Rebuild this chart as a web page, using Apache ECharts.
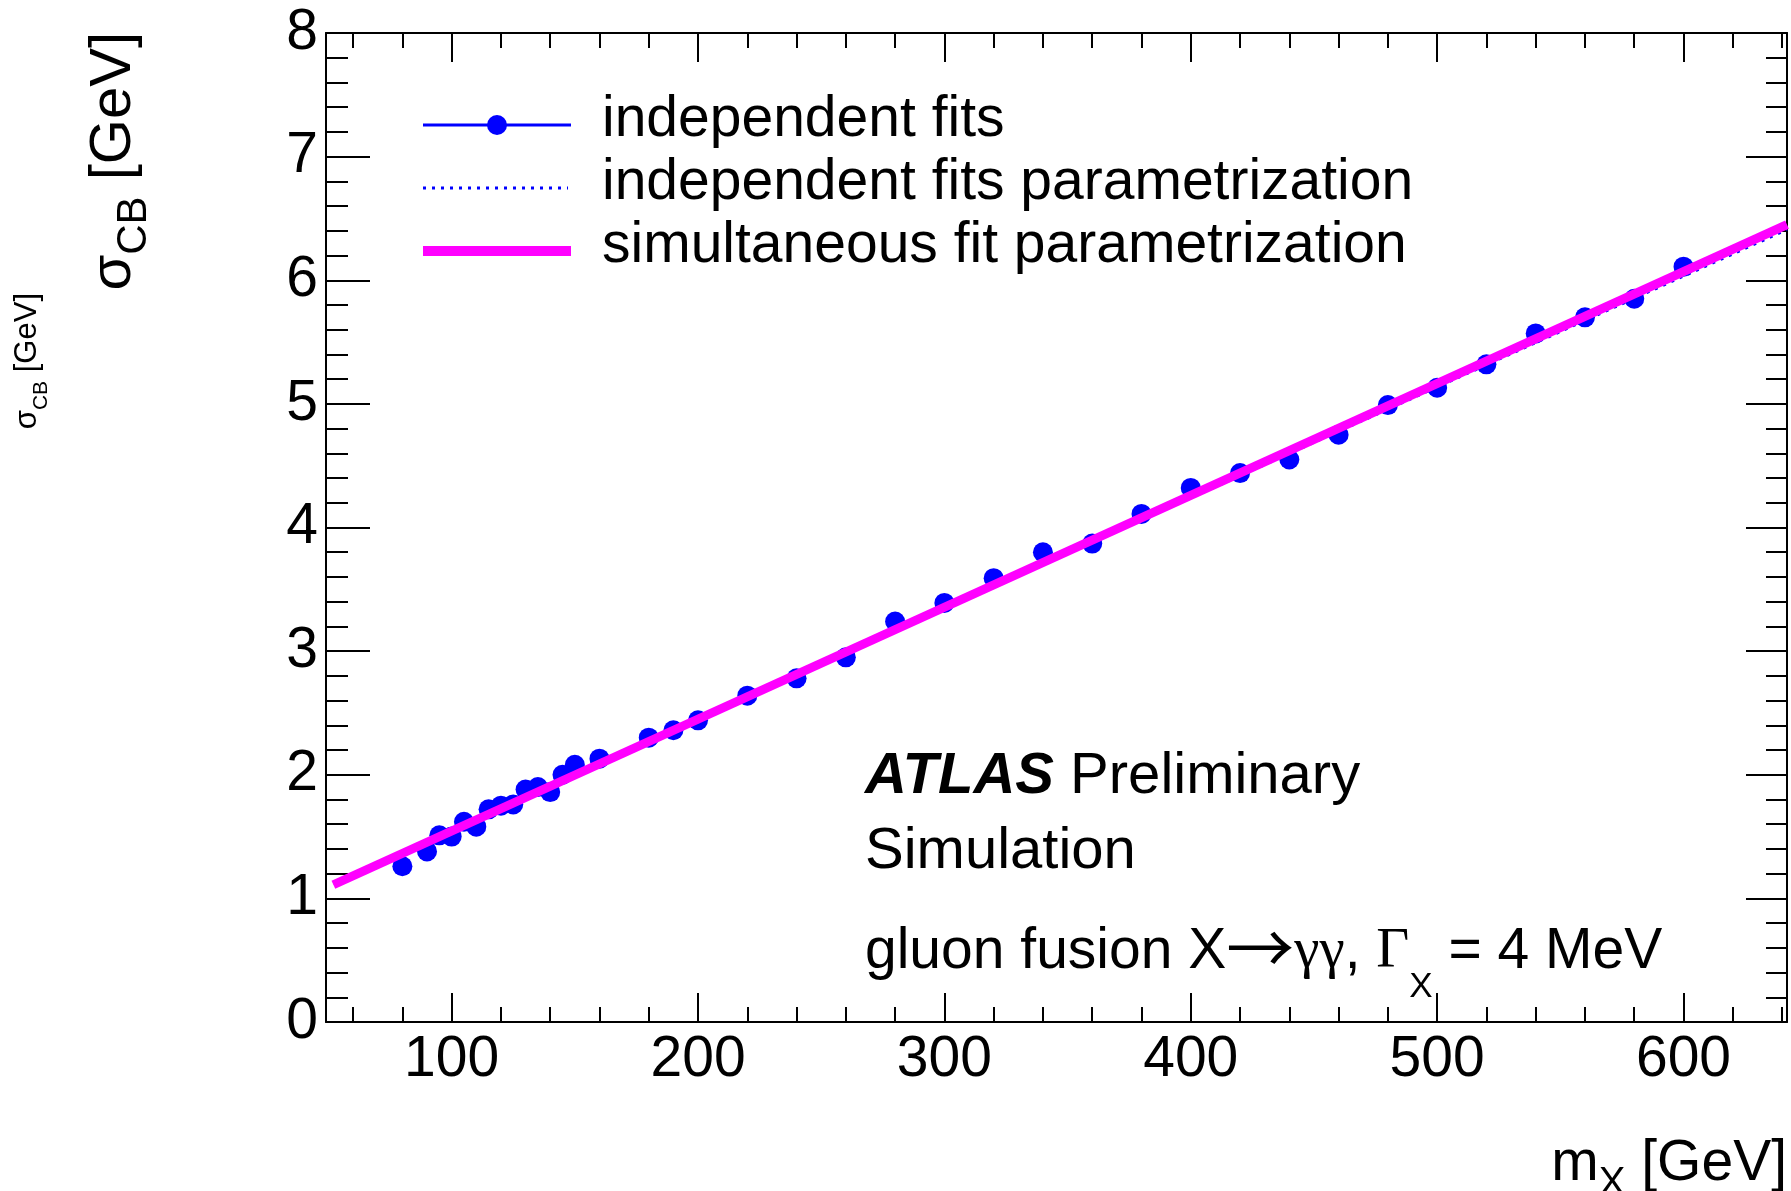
<!DOCTYPE html>
<html>
<head>
<meta charset="utf-8">
<script src="https://cdn.jsdelivr.net/npm/echarts@6/dist/echarts.min.js"></script>
<style>
    html, body { margin: 0; padding: 0; background: #ffffff; }
    #chart { width: 1791px; height: 1191px; }
</style>
</head>
<body>
<div id="chart"></div>
<script>
// independent fits (points)
const massPoints = [80, 90, 95, 100, 105, 110, 115, 120, 125, 130, 135, 140, 145, 150, 160,
    180, 190, 200, 220, 240, 260, 280, 300, 320, 340, 360, 380, 400, 420, 440, 460, 480,
    500, 520, 540, 560, 580, 600];
const sigmaPoints = [1.26, 1.38, 1.51, 1.50, 1.62, 1.58, 1.72, 1.75, 1.76, 1.88, 1.90, 1.86, 2.00, 2.08, 2.13,
    2.30, 2.36, 2.44, 2.64, 2.78, 2.95, 3.24, 3.39, 3.59, 3.80, 3.87, 4.11, 4.32, 4.44, 4.55, 4.75, 4.99,
    5.13, 5.32, 5.57, 5.70, 5.85, 6.11];

// parametrizations (straight lines, read at both ends)
const paramMass = [52, 642];
const indepFitSigma = [1.12, 6.41];
const simFitSigma = [1.11, 6.45];

// axis ticks
const xMajorTicks = [100, 200, 300, 400, 500, 600];
const xMinorTicks = [60, 80, 120, 140, 160, 180, 220, 240, 260, 280, 320, 340, 360, 380,
    420, 440, 460, 480, 520, 540, 560, 580, 620, 640];

const legendLabels = ["independent fits", "independent fits parametrization", "simultaneous fit parametrization"];

const SANS = '"Liberation Sans", Arial, Helvetica, sans-serif';
const SERIF = '"Liberation Serif", "Times New Roman", serif';
const BLUE = "#0000ff";
const MAGENTA = "#ff00ff";

const measureCtx = document.createElement("canvas").getContext("2d");
function textWidth(str, font) {
    measureCtx.font = font;
    return measureCtx.measureText(str).width;
}

// a line of text made of pieces (for subscripts, greek in serif...)
function textRun(parts, x, y, align, rotation) {
    const fonts = parts.map(p => `${p.style || "normal"} ${p.weight || "normal"} ${p.size}px ${p.family || SANS}`);
    const widths = parts.map((p, i) => textWidth(p.text, fonts[i]));
    const total = widths.reduce((a, b) => a + b, 0);
    let cx = align === "right" ? -total : 0;
    const children = parts.map((p, i) => {
        const el = {
            type: "text",
            x: cx,
            y: p.dy || 0,
            style: { text: p.text, font: fonts[i], fill: "#000", align: "left", verticalAlign: "middle" },
        };
        cx += widths[i];
        return el;
    });
    return { type: "group", x: x, y: y, rotation: rotation || 0, children: children };
}

const chart = echarts.init(document.getElementById("chart"));

const axisLine = { show: true, onZero: false, lineStyle: { color: "#000", width: 2 } };
const noLine = { show: false, onZero: false };
const tickLine = { color: "#000", width: 2 };
const labelFont = { fontSize: 57, fontFamily: SANS, color: "#000" };
const xRange = { type: "value", min: 49, max: 642, splitLine: { show: false } };

const legendY = [125, 188, 251];

const option = {
    backgroundColor: "#ffffff",
    animation: false,
    grid: { left: 326, right: 4, top: 33, bottom: 169, outerBoundsMode: "none" },
    xAxis: [
        {
            ...xRange, position: "bottom", axisLine: axisLine,
            axisTick: { show: true, inside: true, length: 29, customValues: xMajorTicks, lineStyle: tickLine },
            axisLabel: { show: true, customValues: xMajorTicks, margin: 10, ...labelFont },
        },
        {
            ...xRange, position: "bottom", axisLine: noLine,
            axisTick: { show: true, inside: true, length: 15, customValues: xMinorTicks, lineStyle: tickLine },
            axisLabel: { show: false },
        },
        {
            ...xRange, position: "top", axisLine: axisLine,
            axisTick: { show: true, inside: true, length: 29, customValues: xMajorTicks, lineStyle: tickLine },
            axisLabel: { show: false },
        },
        {
            ...xRange, position: "top", axisLine: noLine,
            axisTick: { show: true, inside: true, length: 15, customValues: xMinorTicks, lineStyle: tickLine },
            axisLabel: { show: false },
        },
    ],
    yAxis: [
        {
            type: "value", min: 0, max: 8, interval: 1, position: "left",
            axisLine: axisLine,
            axisTick: { show: true, inside: true, length: 44, lineStyle: tickLine },
            minorTick: { show: true, splitNumber: 5, length: 22, lineStyle: tickLine },
            axisLabel: { margin: 8, ...labelFont },
            splitLine: { show: false },
        },
        {
            type: "value", min: 0, max: 8, interval: 1, position: "right",
            axisLine: axisLine,
            axisTick: { show: true, inside: true, length: 41, lineStyle: tickLine },
            minorTick: { show: true, splitNumber: 5, length: 21, lineStyle: tickLine },
            axisLabel: { show: false },
            splitLine: { show: false },
        },
    ],
    series: [
        {
            name: legendLabels[0],
            type: "scatter",
            data: massPoints.map((m, i) => [m, sigmaPoints[i]]),
            symbol: "circle",
            symbolSize: 20,
            itemStyle: { color: BLUE, opacity: 1 },
            z: 2,
        },
        {
            name: legendLabels[1],
            type: "line",
            data: paramMass.map((m, i) => [m, indepFitSigma[i]]),
            symbol: "none",
            lineStyle: { color: BLUE, width: 3, type: [3, 6] },
            z: 3,
        },
        {
            name: legendLabels[2],
            type: "line",
            data: paramMass.map((m, i) => [m, simFitSigma[i]]),
            symbol: "none",
            lineStyle: { color: MAGENTA, width: 9 },
            z: 4,
        },
    ],
    graphic: [
        // legend
        { type: "line", shape: { x1: 423, y1: legendY[0], x2: 571, y2: legendY[0] }, style: { stroke: BLUE, lineWidth: 3 } },
        { type: "circle", shape: { cx: 497, cy: legendY[0], r: 10 }, style: { fill: BLUE } },
        { type: "line", shape: { x1: 423, y1: legendY[1], x2: 568, y2: legendY[1] }, style: { stroke: BLUE, lineWidth: 3, lineDash: [3, 6] } },
        { type: "line", shape: { x1: 423, y1: legendY[2], x2: 571, y2: legendY[2] }, style: { stroke: MAGENTA, lineWidth: 10 } },
        ...legendLabels.map((t, i) => textRun([{ text: t, size: 57 }], 602, legendY[i] - 5)),

        // ATLAS label
        textRun([{ text: "ATLAS", size: 58, style: "italic", weight: "bold" }, { text: " Preliminary", size: 58 }], 865, 777),
        textRun([{ text: "Simulation", size: 58 }], 865, 852),
        textRun([
            { text: "gluon fusion X", size: 57 },
            { text: "\u2192", size: 68, dy: -4, family: '"Noto Sans CJK SC", "DejaVu Sans", sans-serif' },
            { text: "\u03b3\u03b3", size: 57, family: SERIF },
            { text: ", ", size: 57 },
            { text: "\u0393", size: 57, family: SERIF },
            { text: "X", size: 35, dy: 35 },
            { text: " = 4 MeV", size: 57 },
        ], 865, 952),

        // axis titles
        textRun([{ text: "m", size: 57 }, { text: "X", size: 40, dy: 20 }, { text: " [GeV]", size: 57 }], 1787, 1164, "right"),
        textRun([{ text: "\u03c3", size: 58 }, { text: "CB", size: 42, dy: 20 }, { text: " [GeV]", size: 58 }], 114, 32, "right", Math.PI / 2),
        textRun([{ text: "\u03c3", size: 31 }, { text: "CB", size: 21, dy: 14 }, { text: " [GeV]", size: 31 }], 27, 293, "right", Math.PI / 2),
    ],
};

chart.setOption(option);
</script>
</body>
</html>
